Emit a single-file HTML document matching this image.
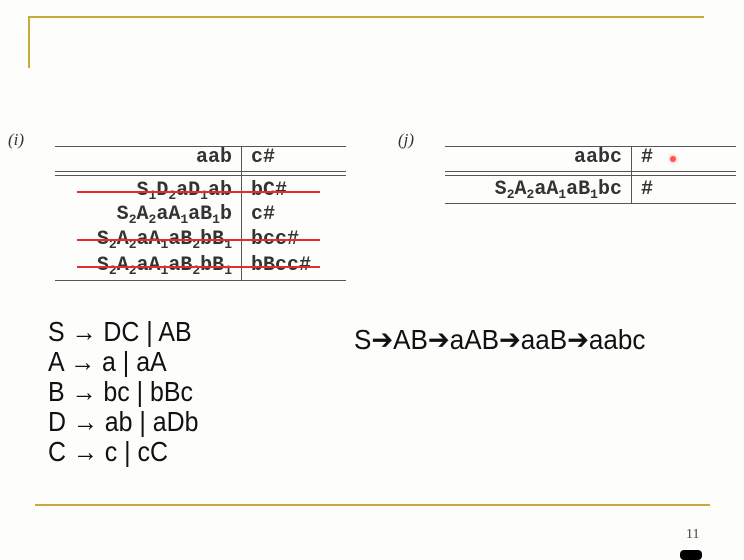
<!DOCTYPE html>
<html><head><meta charset="utf-8"><style>
body{margin:0;width:744px;height:557px;background:#fdfdfb;position:relative;overflow:hidden;font-family:"Liberation Sans",sans-serif}
.a{position:absolute}
.g{position:absolute;background:#c9a93a}
.l{position:absolute;background:#555;height:1.3px}
.m{font-family:"Liberation Mono",monospace;font-weight:bold;font-size:20px;line-height:24px;color:#333;position:absolute;white-space:nowrap}
.r{text-align:right}
sub{font-size:13px;vertical-align:-4px;line-height:0}
.s{position:absolute;height:2px;background:#e0302a}
.gr{position:absolute;left:48px;font-size:28px;color:#111;transform:scaleX(0.89);transform-origin:0 0;white-space:nowrap;line-height:30px}
</style></head><body>
<div class="g" style="left:28px;top:16px;width:676px;height:2px"></div>
<div class="g" style="left:28px;top:16px;width:2px;height:52px"></div>
<div class="g" style="left:35px;top:504px;width:675px;height:2px"></div>
<div class="a" style="left:686px;top:527px;font-family:'Liberation Serif',serif;font-size:14px;color:#444">11</div>
<div class="a" style="left:680px;top:550px;width:22px;height:10px;background:#000;border-radius:4px"></div>

<div class="a" style="left:8px;top:130px;font-family:'Liberation Serif',serif;font-style:italic;font-size:17px;color:#333">(<i>i</i>)</div>
<div class="l" style="left:55px;top:146px;width:291px"></div>
<div class="l" style="left:55px;top:171px;width:291px"></div>
<div class="l" style="left:55px;top:175px;width:291px"></div>
<div class="l" style="left:55px;top:280px;width:291px"></div>
<div class="a" style="left:241px;top:146px;width:1.3px;height:135px;background:#555"></div>
<div class="m r" style="right:512px;top:146px">aab</div><div class="m" style="left:251px;top:146px">c#</div>
<div class="m r" style="right:512px;top:179px">S<sub>1</sub>D<sub>2</sub>aD<sub>1</sub>ab</div><div class="m" style="left:251px;top:179px">bC#</div>
<div class="m r" style="right:512px;top:203px">S<sub>2</sub>A<sub>2</sub>aA<sub>1</sub>aB<sub>1</sub>b</div><div class="m" style="left:251px;top:203px">c#</div>
<div class="m r" style="right:512px;top:228px">S<sub>2</sub>A<sub>2</sub>aA<sub>1</sub>aB<sub>2</sub>bB<sub>1</sub></div><div class="m" style="left:251px;top:228px">bcc#</div>
<div class="m r" style="right:512px;top:254px">S<sub>2</sub>A<sub>2</sub>aA<sub>1</sub>aB<sub>2</sub>bB<sub>1</sub></div><div class="m" style="left:251px;top:254px">bBcc#</div>
<div class="s" style="left:77px;top:191px;width:243px"></div>
<div class="s" style="left:77px;top:239px;width:243px"></div>
<div class="s" style="left:77px;top:266px;width:243px"></div>

<div class="a" style="left:398px;top:130px;font-family:'Liberation Serif',serif;font-style:italic;font-size:17px;color:#333">(<i>j</i>)</div>
<div class="l" style="left:445px;top:146px;width:291px"></div>
<div class="l" style="left:445px;top:171px;width:291px"></div>
<div class="l" style="left:445px;top:175px;width:291px"></div>
<div class="l" style="left:445px;top:203px;width:291px"></div>
<div class="a" style="left:631px;top:146px;width:1.3px;height:58px;background:#555"></div>
<div class="m r" style="right:122px;top:146px">aabc</div><div class="m" style="left:641px;top:146px">#</div>
<div class="m r" style="right:122px;top:178px">S<sub>2</sub>A<sub>2</sub>aA<sub>1</sub>aB<sub>1</sub>bc</div><div class="m" style="left:641px;top:178px">#</div>
<div class="a" style="left:670px;top:156px;width:6px;height:6px;border-radius:50%;background:#f55;box-shadow:0 0 3px #f88"></div>

<div class="gr" style="top:317px">S → DC | AB</div>
<div class="gr" style="top:347px">A → a | aA</div>
<div class="gr" style="top:377px">B → bc | bBc</div>
<div class="gr" style="top:407px">D → ab | aDb</div>
<div class="gr" style="top:437px">C → c | cC</div>
<div class="gr" style="left:354px;top:325px;transform:scaleX(0.93)">S➔AB➔aAB➔aaB➔aabc</div>
</body></html>
